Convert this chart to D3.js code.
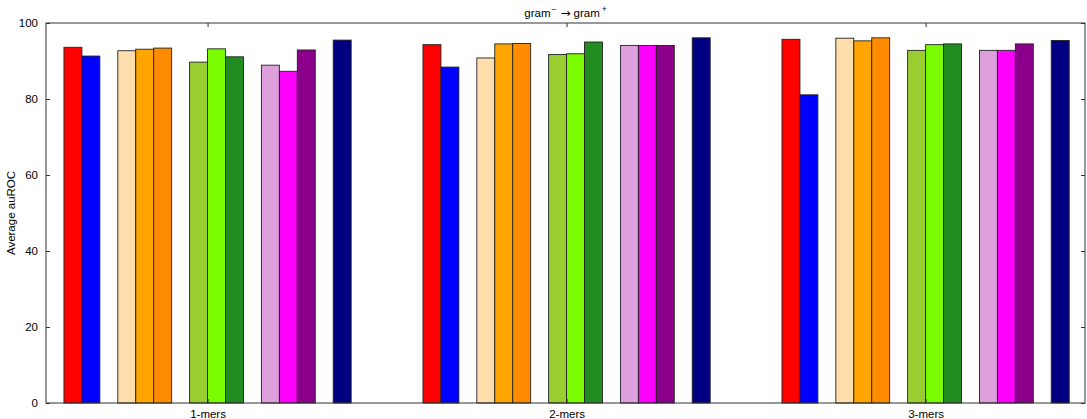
<!DOCTYPE html>
<html>
<head>
<meta charset="utf-8">
<script src="https://cdn.jsdelivr.net/npm/d3@7"></script>
<style>
  body { margin: 0; background: #fff; }
  svg { display: block; font-family: "Liberation Sans", Arial, sans-serif; }
</style>
</head>
<body>
<div id="chart"></div>
<script>
// k-mer feature sets on the x axis
const groups = ["1-mers", "2-mers", "3-mers"];

// one colour per slot inside a group (null = empty spacer slot)
const seriesColors = ["#ff0000", "#0000ff", null,
                      "#ffdead", "#ffa500", "#ff8c00", null,
                      "#9acd32", "#7cfc00", "#228b22", null,
                      "#dda0dd", "#ff00ff", "#8b008b", null,
                      "#000080"];

const redVals         = [93.6, 94.3, 95.7];
const blueVals        = [91.3, 88.4, 81.1];
const peachVals       = [92.7, 90.8, 96.0];
const orangeVals      = [93.1, 94.5, 95.3];
const darkOrangeVals  = [93.4, 94.6, 96.1];
const yellowGreenVals = [89.7, 91.7, 92.8];
const lawnGreenVals   = [93.2, 91.9, 94.3];
const forestGreenVals = [91.1, 95.0, 94.5];
const plumVals        = [88.9, 94.1, 92.8];
const magentaVals     = [87.3, 94.1, 92.8];
const purpleVals      = [92.9, 94.1, 94.5];
const navyVals        = [95.5, 96.1, 95.4];

const yTicks = [0, 20, 40, 60, 80, 100];

const slots = [redVals, blueVals, null,
               peachVals, orangeVals, darkOrangeVals, null,
               yellowGreenVals, lawnGreenVals, forestGreenVals, null,
               plumVals, magentaVals, purpleVals, null,
               navyVals];

const W = 1087, H = 419;
const margin = {left: 46, right: 2, top: 23, bottom: 16};
const barW = 0.05;

const svg = d3.select("#chart").append("svg")
  .attr("width", W).attr("height", H);

const x = d3.scaleLinear()
  .domain([-0.05, 2.844])
  .range([margin.left, W - margin.right]);
const y = d3.scaleLinear()
  .domain([0, 100])
  .range([H - margin.bottom, margin.top]);

// bars
const bars = [];
slots.forEach((vals, s) => {
  if (!vals) return;
  vals.forEach((v, g) => bars.push({g, s, v, color: seriesColors[s]}));
});

svg.append("g").selectAll("rect").data(bars).join("rect")
  .attr("x", d => x(d.g + d.s * barW))
  .attr("width", d => x(d.g + (d.s + 1) * barW) - x(d.g + d.s * barW))
  .attr("y", d => y(d.v))
  .attr("height", d => y(0) - y(d.v))
  .attr("fill", d => d.color)
  .attr("stroke", "#222")
  .attr("stroke-width", 0.9);

// frame
const x0 = x.range()[0], x1 = x.range()[1];
const y0 = y.range()[0], y1 = y.range()[1];
svg.append("rect")
  .attr("x", x0).attr("y", y1)
  .attr("width", x1 - x0).attr("height", y0 - y1)
  .attr("fill", "none").attr("stroke", "#333").attr("stroke-width", 1);

// inward ticks on all sides
const tickLen = 4;
const centers = groups.map((_, g) => g + slots.length * barW / 2);

const yAxisL = d3.axisLeft(y).tickValues(yTicks).tickSize(-tickLen).tickPadding(tickLen + 4);
const gl = svg.append("g").attr("transform", `translate(${x0},0)`).call(yAxisL);
const yAxisR = d3.axisRight(y).tickValues(yTicks).tickSize(-tickLen).tickFormat("");
const gr = svg.append("g").attr("transform", `translate(${x1},0)`).call(yAxisR);

const xAxisB = d3.axisBottom(x).tickValues(centers).tickSize(-tickLen)
  .tickPadding(tickLen + 3).tickFormat((d, i) => groups[i]);
const gb = svg.append("g").attr("transform", `translate(0,${y0})`).call(xAxisB);
const xAxisT = d3.axisTop(x).tickValues(centers).tickSize(-tickLen).tickFormat("");
const gt = svg.append("g").attr("transform", `translate(0,${y1})`).call(xAxisT);

[gl, gr, gb, gt].forEach(g => {
  g.select(".domain").remove();
  g.selectAll(".tick line").attr("stroke", "#333");
  g.selectAll("text").attr("font-family", "Liberation Sans, Arial, sans-serif")
    .attr("font-size", 11.5).attr("fill", "#000");
});

// axis title
svg.append("text")
  .attr("transform", `translate(15,${(y0 + y1) / 2}) rotate(-90)`)
  .attr("text-anchor", "middle")
  .attr("font-size", 11.5)
  .text("Average auROC");

// plot title with superscripts and arrow
const title = svg.append("text")
  .attr("x", x(1 + slots.length * barW / 2) - 1).attr("y", 17)
  .attr("text-anchor", "middle")
  .attr("font-size", 11.5);
title.append("tspan").text("gram");
title.append("tspan").attr("dy", -5).attr("dx", 1).attr("font-size", 8.5).text("\u2212");
title.append("tspan").attr("dy", 5).attr("dx", 4)
  .attr("font-family", "DejaVu Sans").attr("font-size", 12).text("\u2192");
title.append("tspan").attr("dx", 3).text("gram");
title.append("tspan").attr("dy", -5).attr("dx", 2).attr("font-size", 8.5).text("+");
</script>
</body>
</html>
